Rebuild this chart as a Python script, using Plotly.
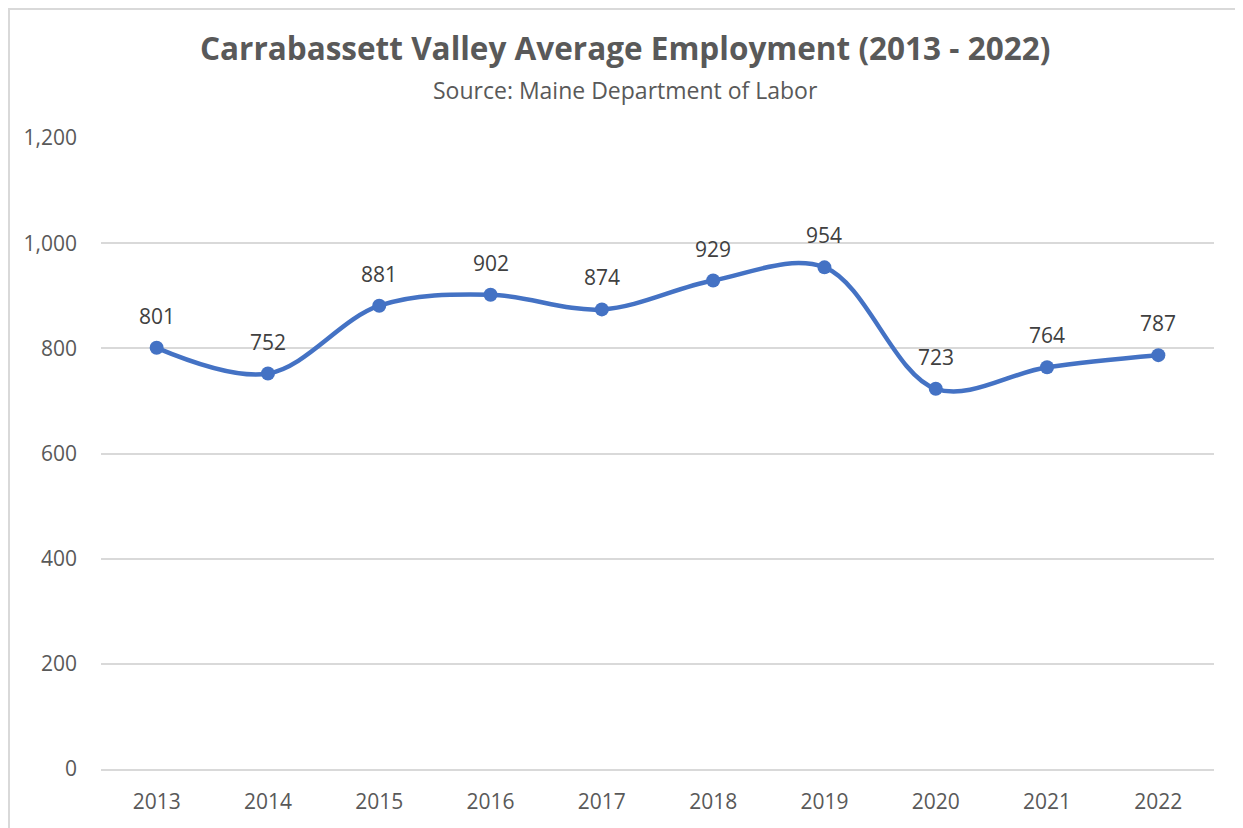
import plotly.graph_objects as go

years = ["2013", "2014", "2015", "2016", "2017", "2018", "2019", "2020", "2021", "2022"]
employment = [801, 752, 881, 902, 874, 929, 954, 723, 764, 787]
y_ticks = [0, 200, 400, 600, 800, 1000, 1200]
y_tick_labels = ["0", "200", "400", "600", "800", "1,000", "1,200"]

TXT = "#595959"
FONT = "Open Sans"

fig = go.Figure()
fig.add_trace(go.Scatter(
    x=years, y=employment,
    mode="lines+markers",
    line=dict(color="#4472C4", width=4.5, shape="spline", smoothing=1.0),
    marker=dict(color="#4472C4", size=14),
    cliponaxis=False,
    hoverinfo="x+y",
))

# page renders figure offset by 8px (body margin); positions below are in figure px
OFF = 8
W, H = 1243, 828
L, R, T, B = 101 - OFF, 1243 - (1214 - OFF), 138 - OFF, 828 - (769 - OFF)
pw, ph = W - L - R, H - T - B

def px_x(p):
    return (p - OFF - L) / pw

def px_y(p):
    return (H - B - (p - OFF)) / ph

# data labels: category index positions on the category axis
annotations = [
    dict(x=i, y=v, text=str(v), xref="x", yref="y", showarrow=False,
         yshift=32, xanchor="center", yanchor="middle",
         font=dict(family=FONT, size=21, color="#404040"))
    for i, v in enumerate(employment)
]
annotations += [
    dict(text="<b>Carrabassett Valley Average Employment (2013 - 2022)</b>",
         xref="paper", yref="paper", x=px_x(625), y=px_y(47),
         xanchor="center", yanchor="middle", showarrow=False,
         font=dict(family=FONT, size=31.5, color=TXT)),
    dict(text="Source: Maine Department of Labor",
         xref="paper", yref="paper", x=px_x(625), y=px_y(90),
         xanchor="center", yanchor="middle", showarrow=False,
         font=dict(family=FONT, size=23, color=TXT)),
]

fig.update_layout(
    width=W, height=H,
    margin=dict(l=L, r=R, t=T, b=B),
    paper_bgcolor="white", plot_bgcolor="white",
    showlegend=False,
    font=dict(family=FONT, color=TXT),
    xaxis=dict(
        type="category", range=[-0.5, 9.5],
        showgrid=False, showline=True, linecolor="#D9D9D9", linewidth=1.5,
        ticks="", tickfont=dict(size=21, color=TXT),
        ticklabelstandoff=13, zeroline=False,
    ),
    yaxis=dict(
        range=[0, 1200], tickvals=y_ticks, ticktext=y_tick_labels,
        showgrid=True, gridcolor="#D9D9D9", gridwidth=1.5,
        showline=False, zeroline=False, ticks="",
        tickfont=dict(size=21, color=TXT), ticklabelstandoff=23,
    ),
    annotations=annotations,
    shapes=[
        dict(type="rect", xref="paper", yref="paper",
             x0=px_x(9), y0=px_y(900), x1=px_x(1300), y1=px_y(9),
             line=dict(color="#D9D9D9", width=2), layer="below"),
    ],
)

fig.write_html("out.html")
